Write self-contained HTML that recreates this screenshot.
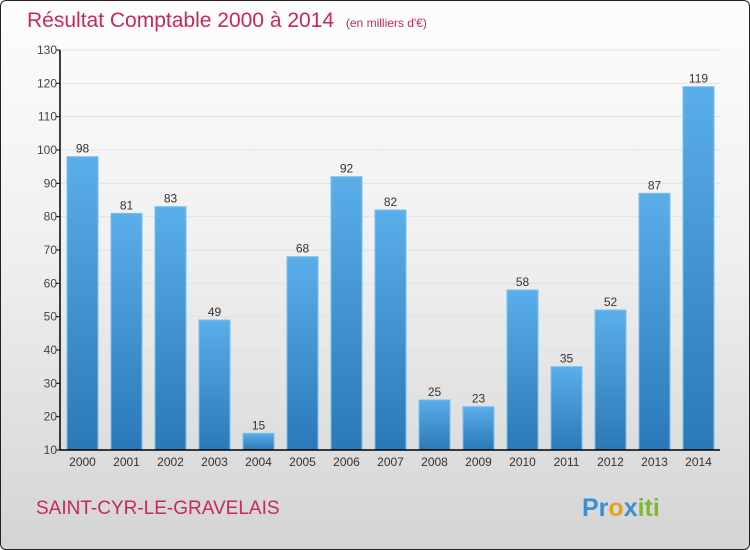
<!DOCTYPE html>
<html><head><meta charset="utf-8"><style>
html,body{margin:0;padding:0}
body{width:750px;height:550px;overflow:hidden;font-family:"Liberation Sans",sans-serif}
.frame{position:absolute;left:0;top:0;width:748px;height:548px;border:1px solid #222;border-radius:6px;background:linear-gradient(#fdfdfd 0%,#f0f0f0 45%,#d4d4d4 100%)}
</style></head><body>
<div class="frame"></div>
<svg width="750" height="550" style="position:absolute;left:0;top:0">
<defs><linearGradient id="bg" x1="0" y1="0" x2="0" y2="1"><stop offset="0" stop-color="#5aaeea"/><stop offset="1" stop-color="#2a78b8"/></linearGradient></defs>
<text x="27" y="27" font-size="21" fill="#c8285a">Résultat Comptable 2000 à 2014 <tspan font-size="12" dx="6">(en milliers d'€)</tspan></text>
<g id="grid"></g><g id="bars"></g><g id="axes"></g>
<text x="36" y="514" font-size="19" fill="#c8285a">SAINT-CYR-LE-GRAVELAIS</text>
<text x="582" y="516" font-size="25" font-weight="bold"><tspan fill="#3a8fd0">Pr</tspan><tspan fill="#e8a020">o</tspan><tspan fill="#3a8fd0">x</tspan><tspan fill="#80b830">iti</tspan></text>
</svg>
<script>
const categories=["2000","2001","2002","2003","2004","2005","2006","2007","2008","2009","2010","2011","2012","2013","2014"];
const values=[98,81,83,49,15,68,92,82,25,23,58,35,52,87,119];
const yTicks=[10,20,30,40,50,60,70,80,90,100,110,120,130];
const NS="http://www.w3.org/2000/svg";
const x0=60,x1=720,yTop=50,yBot=450,vMin=10,vMax=130;
const y=v=>yBot-(v-vMin)/(vMax-vMin)*(yBot-yTop);
const step=44,first=82.5,bw=31;
const xc=i=>first+i*step;
function mk(t,a,p){const e=document.createElementNS(NS,t);for(const k in a)e.setAttribute(k,a[k]);p.appendChild(e);return e;}
const grid=document.getElementById('grid'),bars=document.getElementById('bars'),axes=document.getElementById('axes');
yTicks.forEach(v=>{
 const l=mk('line',{x1:x0,x2:x1,y1:y(v),y2:y(v),stroke:'#e2e2e2','stroke-width':1},grid);
 
 
 const tk=mk('line',{x1:x0-4,x2:x0,y1:y(v),y2:y(v),stroke:'#000'},axes);
 
 
 const t=mk('text',{x:x0-3,y:y(v)+4,'font-size':12,fill:'#444','text-anchor':'end'},axes);
 t.textContent=v;
 
 
});
values.forEach((v,i)=>{
 const r=mk('rect',{x:xc(i)-bw/2,y:y(v),width:bw,height:yBot-y(v),fill:'url(#bg)',stroke:'#7cc0ee','stroke-width':1},bars);
 
 
 const t=mk('text',{x:xc(i),y:y(v)-4,'font-size':12,fill:'#333','text-anchor':'middle'},bars);
 t.textContent=v;
 
 
 const c=mk('text',{x:xc(i),y:466,'font-size':12,fill:'#333','text-anchor':'middle'},axes);
 c.textContent=categories[i];
 
 
});
const ya=mk('line',{x1:x0,x2:x0,y1:yTop,y2:yBot,stroke:'#000','stroke-width':1.5},axes);


const xa=mk('line',{x1:x0,x2:x1,y1:yBot,y2:yBot,stroke:'#000','stroke-width':1.5},axes);


</script>
</body></html>
